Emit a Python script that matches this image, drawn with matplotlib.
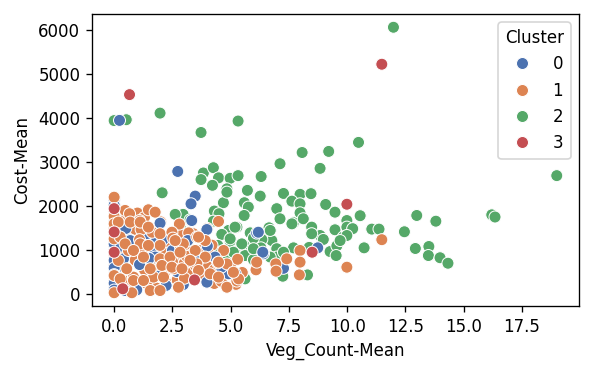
import matplotlib
matplotlib.use("Agg")
import matplotlib.pyplot as plt
import pandas as pd
import seaborn as sns

# cluster 2 (green)
x2 = [0.0, 0.52, 1.97, 3.73, 5.32, 11.99, 10.49, 19.0,
      2.06, 3.83, 4.26, 3.73, 4.48, 4.22, 4.98, 5.32, 4.84, 6.31, 5.72, 6.27,
      7.12, 8.07, 9.21, 8.84, 7.27, 7.98, 8.45, 9.08, 9.48, 9.48, 4.69, 5.59,
      5.76, 5.58, 4.30, 4.50, 2.80, 2.96, 6.98, 7.12, 7.63, 7.98, 7.98, 7.70,
      8.12, 8.48, 8.84, 8.48, 8.98, 9.27, 9.56, 9.53, 8.37, 6.65, 6.77, 6.34,
      5.84, 5.98, 5.27, 4.91, 4.62, 4.98, 5.22, 5.58, 5.62, 5.98, 6.30, 6.98,
      7.70, 6.98, 7.27, 7.24, 8.30, 6.70, 4.45, 4.26, 2.69, 2.62, 3.26, 4.76,
      10.56, 9.99, 9.99, 10.24, 11.06, 11.37, 12.46, 12.99, 13.81, 16.21, 16.35,
      12.93, 13.51, 13.49, 13.99, 14.33, 10.73, 9.84,
      2.62, 2.40, 4.84, 2.91, 4.98, 5.19, 5.48, 5.12, 5.62, 3.98, 4.48,
      7.63, 6.70, 5.98, 7.27, 9.99, 9.70, 2.83]
y2 = [3950, 3970, 4120, 3680, 3940, 6070, 3455, 2700,
      2310, 2760, 2880, 2610, 2650, 2480, 2640, 2700, 2400, 2680, 2365, 2235,
      2970, 3225, 3250, 2865, 2295, 2275, 2290, 2045, 1870, 1470, 2085, 2085,
      1985, 1795, 1895, 1835, 1780, 1820, 1950, 1720, 2120, 2060, 1855, 1630,
      1720, 1530, 1340, 1380, 1250, 975, 1105, 885, 1070, 1515, 1225, 1250,
      1400, 1280, 1530, 1455, 1365, 1210, 975, 1115, 885, 790, 1060, 1040,
      1060, 850, 695, 415, 445, 850, 1115, 1665, 1455, 1820, 1695, 810,
      1790, 1680, 1530, 1495, 1485, 1485, 1425, 1795, 1665, 1810, 1760,
      1045, 1090, 885, 835, 710, 1060, 1305,
      1415, 1300, 2325, 1455, 1265, 1530, 1150, 960, 355, 505, 960,
      1605, 1455, 1040, 960, 1340, 1225, 660]

# cluster 3 (red)
x3 = [0.66, 11.49, 9.99, 8.50, 0.0, 0.0, 0.0, 0.37, 3.45]
y3 = [4540, 5230, 2050, 960, 1950, 1420, 960, 130, 330]

# cluster 0 (blue)
x0 = [0.23, 2.73, 3.48, 3.30, 3.33, 1.97, 3.98, 0.23, 6.12, 8.74,
      4.33, 4.91, 3.98, 2.97, 0.97, 0.0, 0.18, 1.09, 0.66, 1.69,
      3.16, 2.23, 1.97, 6.41, 6.19, 6.38, 7.27, 0.0, 0.0, 0.0,
      0.0, 1.72, 0.47, 0.0, 0.69, 1.33, 1.76, 0.40, 0.0, 0.0,
      0.0, 0.0, 0.0, 0.50, 1.40, 2.50, 2.70, 3.60, 4.00, 4.60,
      5.20, 1.50, 2.10, 0.30, 0.0, 0.0]
y0 = [3955, 2795, 2235, 2060, 1680, 1620, 1475, 1455, 1395, 1060,
      850, 470, 280, 225, 105, 255, 635, 680, 1245, 1190,
      1225, 205, 430, 925, 1415, 960, 595, 2150, 2030, 1265,
      775, 960, 90, 470, 1225, 1300, 850, 810, 1000, 600,
      1800, 1650, 1150, 1500, 1380, 1000, 520, 780, 1100, 620,
      480, 820, 1250, 1100, 450, 100]

# cluster 1 (orange): points read clearly on top of the cloud
x1_top = [0.0, 0.47, 0.66, 1.47, 1.76, 1.09, 4.48, 1.16, 1.63, 1.97,
          2.48, 1.09, 1.97, 2.52, 2.83, 3.55, 3.91, 3.91, 3.12, 4.45,
          4.84, 4.84, 5.27, 6.09, 6.94, 7.41, 7.98, 7.98, 7.95, 0.61,
          0.0, 0.0, 0.0, 0.83, 1.69, 2.55, 3.55, 4.12, 3.02,
          11.49, 9.99, 6.95, 6.12,
          0.0, 0.0, 0.18, 0.69, 1.12, 1.47, 0.26, 0.47, 1.12, 1.47,
          0.83, 1.26, 1.97, 2.40, 0.18, 0.54, 0.26, 0.83, 1.26, 2.12,
          1.55, 2.05, 2.48, 0.76, 1.55, 1.97,
          3.62, 2.97, 2.83, 3.48, 4.48, 3.26, 2.91, 3.62, 4.48, 5.34,
          5.12, 2.76, 2.62]
y1_top = [2210, 1910, 1835, 1925, 1870, 1680, 1660, 1475, 1415, 1380,
          1415, 1245, 1115, 1280, 1115, 1305, 1225, 850, 865, 720,
          695, 165, 305, 560, 695, 810, 1000, 735, 445, 1000,
          1265, 430, 40, 395, 395, 585, 695, 470, 370,
          1245, 620, 530, 735,
          1775, 1605, 1645, 1645, 1645, 1530, 1305, 1150, 1150, 1115,
          1000, 850, 810, 850, 775, 585, 355, 318, 318, 395,
          585, 660, 620, 40, 90, 90,
          1305, 1150, 960, 1000, 735, 775, 585, 545, 395, 355,
          505, 165, 1225]
# cluster 1 (orange): partly hidden points inside the dense cloud
x1_under = [0.0, 0.0, 0.0, 0.0, 0.0, 0.30, 0.30, 0.60, 0.90, 0.90,
            1.30, 1.30, 1.80, 1.80, 2.20, 2.20, 2.60, 2.70, 3.00, 3.30,
            3.40, 3.70, 4.00, 4.20, 4.30, 4.00, 5.23,
            2.90, 3.10, 3.30, 3.50, 3.80, 4.10, 4.30, 4.60, 4.70, 5.00,
            5.30, 5.50, 2.30, 2.50, 2.70, 2.20, 1.80, 1.40, 1.00, 1.30,
            0.10, 0.40, 0.50, 0.70, 0.90, 1.60, 1.90, 2.30, 2.00, 2.80,
            3.20, 0.0, 0.0, 0.0, 0.0, 0.0]
y1_under = [1500, 1100, 900, 650, 300, 1700, 900, 1350, 1480, 780,
            1000, 560, 1200, 700, 1000, 530, 880, 330, 700, 480,
            1380, 1000, 640, 1120, 250, 1500, 230,
            1350, 1000, 900, 650, 420, 900, 560, 300, 1000, 650,
            800, 500, 1200, 750, 1050, 300, 150, 250, 1850, 1750,
            1950, 1450, 300, 150, 1150, 1000, 560, 680, 1650, 1600,
            1400, 2000, 1900, 1350, 800, 150]

# row order decides which marker sits on top
df = pd.concat([
    pd.DataFrame({"Veg_Count-Mean": x2, "Cost-Mean": y2, "Cluster": 2}),
    pd.DataFrame({"Veg_Count-Mean": x1_under, "Cost-Mean": y1_under, "Cluster": 1}),
    pd.DataFrame({"Veg_Count-Mean": x0, "Cost-Mean": y0, "Cluster": 0}),
    pd.DataFrame({"Veg_Count-Mean": x1_top, "Cost-Mean": y1_top, "Cluster": 1}),
    pd.DataFrame({"Veg_Count-Mean": x3, "Cost-Mean": y3, "Cluster": 3}),
], ignore_index=True)

palette = sns.color_palette("deep", 4)

fig, ax = plt.subplots(figsize=(603 / 120, 374 / 120), dpi=120)
sns.scatterplot(data=df, x="Veg_Count-Mean", y="Cost-Mean", hue="Cluster",
                palette=list(palette), s=52, linewidth=0.6, ax=ax)
sns.move_legend(ax, "upper right")
fig.subplots_adjust(left=0.1526, right=0.960, top=0.9626, bottom=0.1818)
fig.savefig("out.png", dpi=120)
